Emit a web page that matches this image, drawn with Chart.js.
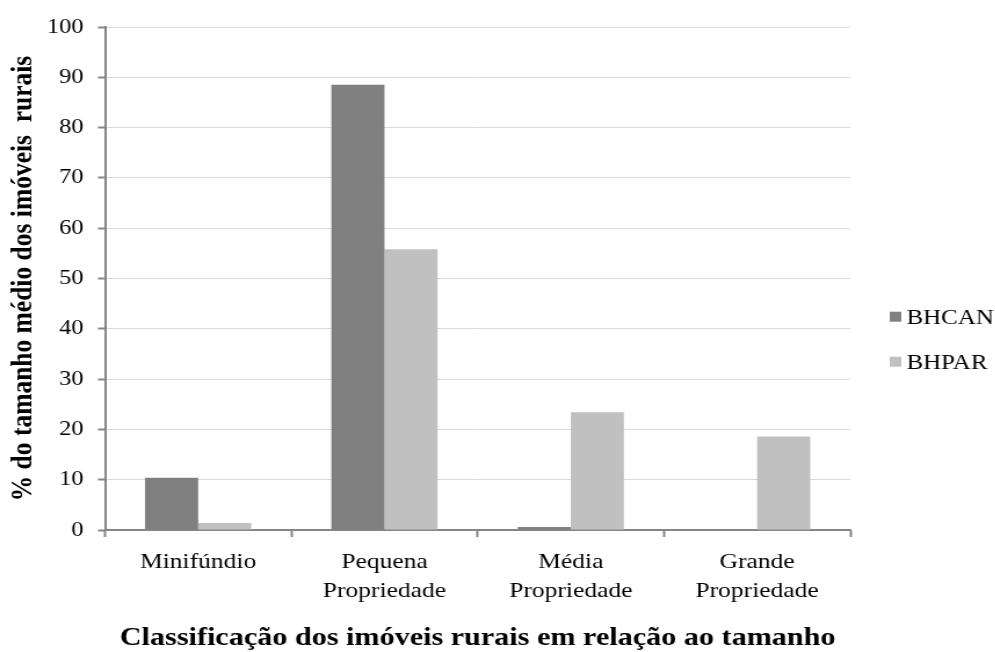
<!DOCTYPE html>
<html lang="pt">
<head>
<meta charset="utf-8">
<title>Classificação dos imóveis rurais</title>
<script src="https://cdn.jsdelivr.net/npm/chart.js@4.4.1/dist/chart.umd.min.js"></script>
<style>
  html, body { margin: 0; padding: 0; background: #ffffff; overflow: hidden; }
  #wrap { width: 858px; height: 652px; transform: scaleX(1.16); transform-origin: 0 0; }
  #chart { display: block; width: 858px; height: 652px; }
</style>
</head>
<body>
<div id="wrap"><canvas id="chart" width="858" height="652"></canvas></div>
<script>
// Categorias de tamanho dos imóveis (rótulos em duas linhas quando necessário)
const categories = [
  'Minifúndio',
  ['Pequena', 'Propriedade'],
  ['Média', 'Propriedade'],
  ['Grande', 'Propriedade']
];

// % do tamanho médio dos imóveis rurais por bacia
const seriesNames = ['BHCAN', 'BHPAR'];
const bhcan = [10.4, 88.5, 0.6, 0];
const bhpar = [1.4, 55.8, 23.4, 18.6];

// Marcas do eixo vertical
const yMin = 0;
const yMax = 100;
const yStep = 10;

const serif = "'Liberation Serif', 'Times New Roman', serif";
const axisGray = '#868686';
const gridGray = '#d9d9d9';

// Legenda lateral: quadrado da cor da série seguido do nome
const sideLegend = {
  id: 'sideLegend',
  afterDraw(chart, args, opts) {
    const ctx = chart.ctx;
    ctx.save();
    ctx.font = `${opts.fontSize}px ${serif}`;
    ctx.textAlign = 'left';
    ctx.textBaseline = 'alphabetic';
    chart.data.datasets.forEach((ds, i) => {
      const cy = opts.top + i * opts.rowGap;
      ctx.fillStyle = ds.backgroundColor;
      ctx.fillRect(opts.x, cy - opts.box / 2, opts.box, opts.box);
      ctx.fillStyle = '#000000';
      ctx.fillText(ds.label, opts.x + opts.box + opts.gap, cy + opts.baselineShift);
    });
    ctx.restore();
  }
};

new Chart(document.getElementById('chart'), {
  type: 'bar',
  data: {
    labels: categories,
    datasets: [
      { label: seriesNames[0], data: bhcan, backgroundColor: '#808080', borderWidth: 0 },
      { label: seriesNames[1], data: bhpar, backgroundColor: '#c0c0c0', borderWidth: 0 }
    ]
  },
  options: {
    responsive: false,
    animation: false,
    devicePixelRatio: 1,
    datasets: { bar: { categoryPercentage: 0.57, barPercentage: 1.0 } },
    layout: { padding: { top: 27, right: 125, bottom: 0, left: 0 } },
    plugins: {
      tooltip: { enabled: false },
      legend: { display: false },
      sideLegend: { x: 767, top: 316.7, rowGap: 45, box: 10, gap: 4.5, fontSize: 21.5, baselineShift: 6.8 }
    },
    scales: {
      x: {
        offset: true,
        afterFit(scale) { scale.height = 122; },
        grid: {
          display: true,
          offset: true,
          drawOnChartArea: false,
          drawTicks: true,
          tickLength: 7,
          tickColor: axisGray,
          tickWidth: 2
        },
        border: { display: true, color: axisGray, width: 2 },
        ticks: {
          color: '#000000',
          padding: 11,
          maxRotation: 0,
          autoSkip: false,
          font: { family: serif, size: 22, lineHeight: 1.32 }
        },
        title: {
          display: true,
          text: 'Classificação dos imóveis rurais em relação ao tamanho',
          color: '#000000',
          padding: { top: 7, bottom: 0 },
          font: { family: serif, size: 26, weight: 'bold', lineHeight: 1.05 }
        }
      },
      y: {
        min: yMin,
        max: yMax,
        afterFit(scale) { scale.width = 90.5; },
        grid: {
          color: gridGray,
          lineWidth: 1,
          drawTicks: true,
          tickLength: 6,
          tickColor: axisGray,
          tickWidth: 2
        },
        border: { display: true, color: axisGray, width: 2 },
        ticks: {
          stepSize: yStep,
          color: '#000000',
          padding: 12.5,
          font: { family: serif, size: 21 }
        },
        title: {
          display: true,
          text: '% do tamanho médio dos imóveis  rurais',
          color: '#000000',
          padding: { top: 5, bottom: 0 },
          font: { family: serif, size: 25.5, weight: 'bold', lineHeight: 1.2 }
        }
      }
    }
  },
  plugins: [sideLegend]
});
</script>
</body>
</html>
